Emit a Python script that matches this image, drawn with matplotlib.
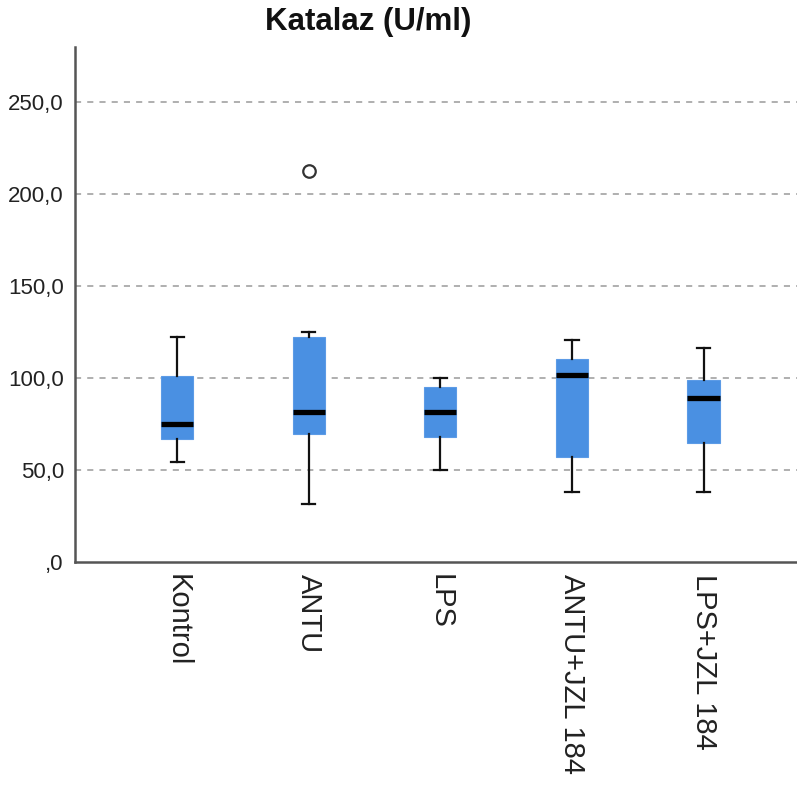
import matplotlib.pyplot as plt

# box statistics (U/ml)
groups = ["Kontrol", "ANTU", "LPS", "ANTU+JZL 184", "LPS+JZL 184"]
whislo = [54.5, 31.8, 50.0, 37.8, 37.8]
q1 = [66.9, 69.6, 67.8, 57.3, 64.6]
med = [75.2, 81.8, 81.8, 101.4, 89.4]
q3 = [100.9, 122.3, 94.9, 110.4, 99.1]
whishi = [122.3, 125.0, 100.3, 120.9, 116.5]
fliers = [[], [212.6], [], [], []]

yticks = [0, 50, 100, 150, 200, 250]
yticklabels = [",0", "50,0", "100,0", "150,0", "200,0", "250,0"]

plt.rcParams['font.family'] = ['Liberation Sans', 'DejaVu Sans']

fig = plt.figure(figsize=(7.97, 7.87), dpi=100)
ax = fig.add_axes([75 / 797, 1 - 562 / 787, 1 - 75 / 797, (562 - 47) / 787])

stats = []
for i, g in enumerate(groups):
    stats.append(dict(label=g, whislo=whislo[i], q1=q1[i], med=med[i], q3=q3[i],
                      whishi=whishi[i], fliers=fliers[i]))

ax.bxp(stats, positions=range(1, 6), widths=0.245, patch_artist=True,
       boxprops=dict(facecolor="#4A90E2", edgecolor="#5C9BE6", linewidth=0.8),
       medianprops=dict(color="black", linewidth=3.8, solid_capstyle="butt"),
       whiskerprops=dict(color="#111111", linewidth=1.6),
       capprops=dict(color="#111111", linewidth=1.6),
       capwidths=0.1,
       flierprops=dict(marker="o", markersize=9, markerfacecolor="white",
                       markeredgecolor="#333333", markeredgewidth=1.6),
       zorder=3)

ax.set_xlim(0.224, 5.71)
ax.set_ylim(0, 280)
ax.set_yticks(yticks)
ax.set_yticklabels(yticklabels, fontsize=16, color="#222222")
ax.set_xticks(range(1, 6))
ax.set_xticklabels(groups, rotation=270, fontsize=21, color="#222222",
                   va="top", ha="center")
ax.tick_params(axis="both", length=0)
ax.tick_params(axis="y", pad=8)
ax.tick_params(axis="x", pad=9)

for y in yticks[1:]:
    ax.axhline(y, color="#9a9a9a", linestyle=(0, (4, 4)), linewidth=1.1, zorder=1)

for s in ["top", "right"]:
    ax.spines[s].set_visible(False)
for s in ["left", "bottom"]:
    ax.spines[s].set_color("#555555")
    ax.spines[s].set_linewidth(1.8)

fig.text(368.5 / 797, 1 - 22 / 787, "Katalaz (U/ml)", fontsize=22.5,
         fontweight="bold", ha="center", va="center", color="#111111")

fig.savefig("out.png", dpi=100, facecolor="white")
